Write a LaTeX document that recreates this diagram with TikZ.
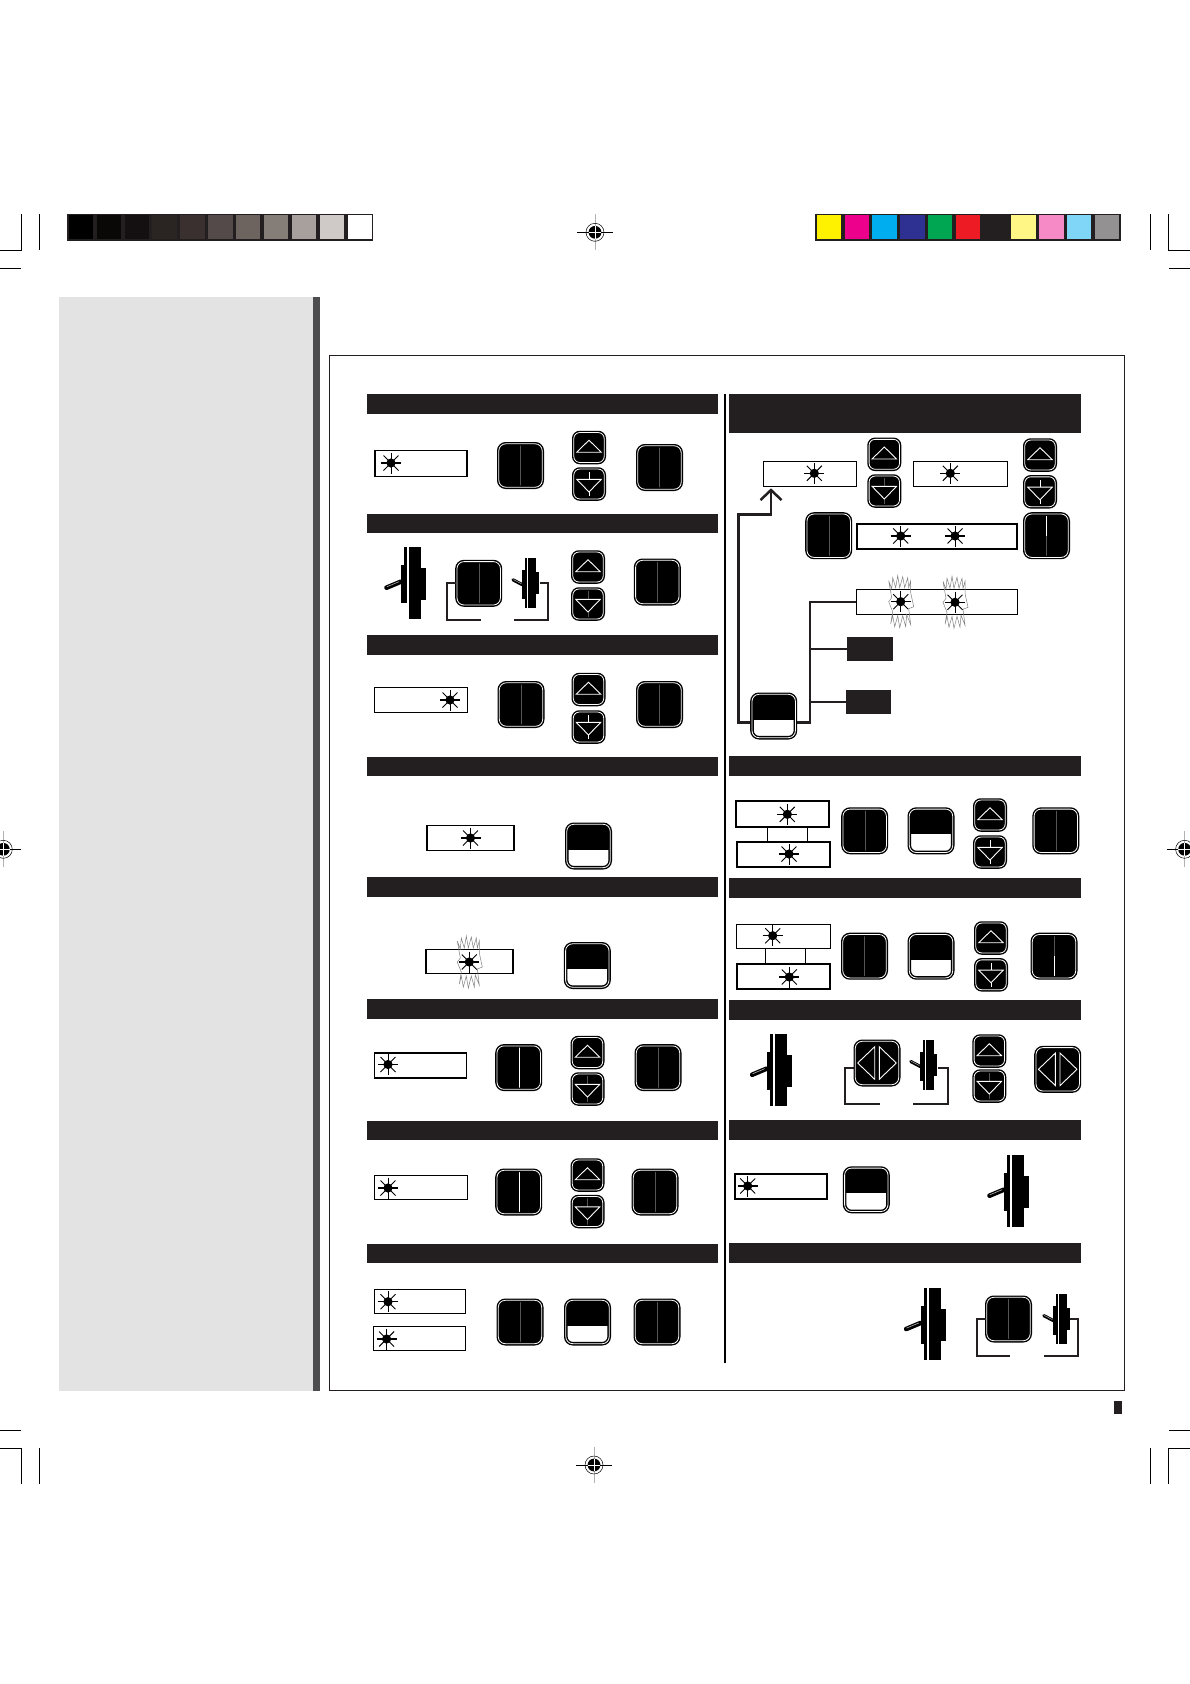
\documentclass[tikz,border=0pt]{standalone}
\usepackage{tikz}
\usetikzlibrary{arrows.meta}
\definecolor{inkdark}{HTML}{231F20}
\definecolor{panelgray}{HTML}{E3E3E3}
\definecolor{panelstrip}{HTML}{4D4D4F}
\definecolor{hairdim}{HTML}{555555}
\definecolor{cyel}{HTML}{FFF200}
\definecolor{cmag}{HTML}{EC008C}
\definecolor{ccya}{HTML}{00AEEF}
\definecolor{cblu}{HTML}{2E3192}
\definecolor{cgrn}{HTML}{00A651}
\definecolor{cred}{HTML}{ED1C24}
\definecolor{cblk}{HTML}{231F20}
\definecolor{cyel2}{HTML}{FFF685}
\definecolor{cmag2}{HTML}{F58AC6}
\definecolor{ccya2}{HTML}{7FD6F7}
\definecolor{cgry2}{HTML}{939191}
\definecolor{gs1}{HTML}{0A0807}
\definecolor{gs2}{HTML}{141011}
\definecolor{gs3}{HTML}{2A2523}
\definecolor{gs4}{HTML}{3A3030}
\definecolor{gs5}{HTML}{534A49}
\definecolor{gs6}{HTML}{6D645F}
\definecolor{gs7}{HTML}{857D78}
\definecolor{gs8}{HTML}{A8A09C}
\definecolor{gs9}{HTML}{CFC9C8}
\tikzset{
  btnbase/.style={draw=black, fill=black, double=white, double distance=.8pt, line width=1.4pt, inner sep=0pt},
  hair/.style 2 args={path picture={
    \draw[#1,line width=.35pt,sharp corners] (path picture bounding box.north) -- (path picture bounding box.center);
    \draw[#2,line width=.35pt,sharp corners] (path picture bounding box.center) -- (path picture bounding box.south);}},
  bigbase/.style={btnbase, minimum width=43.4pt, minimum height=43.4pt, rounded corners=7pt},
  bigbtn/.style={bigbase, hair={hairdim}{hairdim}},
  smallbase/.style={btnbase, minimum width=30.4pt, minimum height=29.9pt, rounded corners=6pt},
  upbtn/.style={smallbase, path picture={
    \draw[white,line width=.9pt,fill=black,sharp corners] ([shift={(-12.3,4.7)}]path picture bounding box.center) -- ([shift={(12.3,4.7)}]path picture bounding box.center) -- ([shift={(0,-7.3)}]path picture bounding box.center) -- cycle;}},
  downbtn/.style={smallbase, path picture={
    \draw[hairdim,line width=.3pt,sharp corners] (path picture bounding box.north) -- (path picture bounding box.south);
    \draw[white,line width=.9pt,fill=black,sharp corners] ([shift={(-12.3,-4.7)}]path picture bounding box.center) -- ([shift={(12.3,-4.7)}]path picture bounding box.center) -- ([shift={(0,8)}]path picture bounding box.center) -- cycle;}},
  downcross/.style={smallbase, path picture={
    \draw[white,line width=.9pt,fill=black,sharp corners] ([shift={(-12.3,-4.7)}]path picture bounding box.center) -- ([shift={(12.3,-4.7)}]path picture bounding box.center) -- ([shift={(0,8)}]path picture bounding box.center) -- cycle;
    \draw[white,line width=.8pt,sharp corners] ([shift={(0,-12)}]path picture bounding box.center) -- ([shift={(0,-4.7)}]path picture bounding box.center);
    \draw[white,line width=.8pt,sharp corners] ([shift={(0,8)}]path picture bounding box.center) -- ([shift={(0,12)}]path picture bounding box.center);}},
  halfbtn/.style={bigbase, fill=white, path picture={
    \fill[black,sharp corners] (path picture bounding box.north west) rectangle ([shift={(0,3.5)}]path picture bounding box.east);}},
  lrbtn/.style={bigbase, path picture={
    \draw[white,line width=.9pt,sharp corners] ([shift={(-19.3,0)}]path picture bounding box.center) -- ([shift={(-2.3,-16.3)}]path picture bounding box.center) -- ([shift={(-2.3,16.3)}]path picture bounding box.center) -- cycle;
    \draw[white,line width=.9pt,sharp corners] ([shift={(19.3,0)}]path picture bounding box.center) -- ([shift={(2.3,-16.3)}]path picture bounding box.center) -- ([shift={(2.3,16.3)}]path picture bounding box.center) -- cycle;}},
  dispbox/.style 2 args={draw=black, fill=white, line width=1.1pt, inner sep=0pt, minimum width=#1pt, minimum height=#2pt},
  heavy/.style={line width=1.7pt},
  hbar/.style 2 args={fill=inkdark, inner sep=0pt, minimum width=#1pt, minimum height=#2pt},
  wire/.style={draw=inkdark, line width=2.5pt},
  bracket/.style={draw=inkdark, line width=1.7pt},
  swatch/.style={inner sep=0pt, minimum width=24.4pt, minimum height=24pt},
  cropline/.style={draw=black, line width=.8pt},
  pics/lamp/.style={code={
    \fill[black] (0,0) circle (4.6);
    \draw[black,line width=1.2pt] (-10,0) -- (10,0);
    \draw[black,line width=.8pt] (0,-10.5) -- (0,10.5);
    \draw[black,line width=.9pt] (-7.5,-7.5) -- (7.5,7.5);
    \draw[black,line width=.9pt] (-7.5,7.5) -- (7.5,-7.5);}},
  pics/flash/.style={code={
    \draw[gray,line width=.5pt] (-12,-21) -- (-9,-13) -- (-8,-24) -- (-5,-14) -- (-3,-26) -- (-1,-14) -- (2,-25) -- (4,-14) -- (7,-24) -- (8,-14) -- (10,-21) -- (10,-9) -- (13,5) -- (8,7) -- (10,23) -- (6,13) -- (5,25) -- (2,14) -- (-1,26) -- (-3,14) -- (-6,25) -- (-8,14) -- (-10,22) -- (-8,10) -- (-12,0) -- (-9,-4) -- cycle;}},
  pics/bigswitch/.style={code={
    \fill[black] (-4,-36) rectangle (-0.8,#1);
    \fill[black] (-7.2,-18) rectangle (-0.8,20);
    \fill[black] (0.8,-36) rectangle (12.8,36);
    \fill[black] (12.8,-15) rectangle (17.8,17);
    \draw[black,line width=4.6pt,line cap=round] (-7.2,-1.3) -- (-21.5,4.7);
    \draw[gray!60,line width=.6pt,line cap=round] (-9,-1.3) -- (-21,3.7);}},
  pics/smallswitch/.style={code={
    \fill[black] (-2.3,-25) rectangle (-0.7,25);
    \fill[black] (-5.3,-13) rectangle (-0.7,16);
    \fill[black] (0.7,-25) rectangle (8.7,25);
    \fill[black] (8.7,-11) rectangle (11.7,11);
    \draw[black,line width=3.2pt,line cap=round] (-5,1.8) -- (-14.5,-3.2);
    \draw[gray!60,line width=.5pt,line cap=round] (-6,0.8) -- (-14,-3.4);}},
  pics/regmark/.style={code={
    \draw[gray!60,line width=.6pt] (0,-18) -- (0,18);
    \draw[black,line width=.5pt] (-18,0) -- (18,0);
    \draw[black,line width=.5pt] (0,0) circle (9);
    \fill[black] (0,0) circle (6.4);
    \draw[white,line width=.6pt] (-6.4,0) -- (6.4,0);
    \draw[white,line width=.6pt] (0,-6.4) -- (0,6.4);}},
}

\begin{document}
\begin{tikzpicture}[x=1pt,y=-1pt]
\useasboundingbox (0,0) rectangle (1190,1684);

\fill[panelgray] (59,297) rectangle (313,1391);
\fill[panelstrip] (313,297) rectangle (320,1391);
\draw[inkdark,line width=.9pt] (329,355) rectangle (1124,1390.3);
\draw[black,line width=1.6pt] (725,394) -- (725,1363);
\fill[inkdark] (1114,1401) rectangle (1122,1414);

\fill[inkdark] (66.8,214) rectangle (372.7,240.7);
\foreach \shade [count=\i from 0] in {black,gs1,gs2,gs3,gs4,gs5,gs6,gs7,gs8,gs9,white}
  \node[swatch,fill=\shade] (gs\i) at ({81+27.87*\i},227.3) {};
\fill[inkdark] (815,214) rectangle (1120.7,240.7);
\foreach \shade [count=\i from 0] in {cyel,cmag,ccya,cblu,cgrn,cred,cblk,cyel2,cmag2,ccya2,cgry2}
  \node[swatch,fill=\shade] (cs\i) at ({829+27.8*\i},227.3) {};

\draw[cropline] (0,250.3) -- (21.3,250.3) -- (21.3,214);
\draw[cropline] (0,268.3) -- (21,268.3);
\draw[cropline] (39.5,214) -- (39.5,250);
\draw[cropline] (1190,250.3) -- (1168.7,250.3) -- (1168.7,214);
\draw[cropline] (1190,268.3) -- (1169,268.3);
\draw[cropline] (1150.3,214) -- (1150.3,250);
\draw[cropline] (0,1430.7) -- (21,1430.7);
\draw[cropline] (0,1448.3) -- (21.7,1448.3) -- (21.7,1483.7);
\draw[cropline] (39.3,1448) -- (39.3,1483.7);
\draw[cropline] (1190,1430.7) -- (1169,1430.7);
\draw[cropline] (1190,1448.3) -- (1168.3,1448.3) -- (1168.3,1483.7);
\draw[cropline] (1150.7,1448) -- (1150.7,1483.7);
\pic at (595,232.3) {regmark};
\pic at (594,1465) {regmark};
\pic at (3.3,849.3) {regmark};
\pic at (1184.6,849.3) {regmark};

\foreach \y/\h [count=\i] in {404/20,523.5/19,645/20,766.7/19.5,887.2/19.5,1008.8/19.7,1130.7/19.5,1253.5/19}
  \node[hbar={351}{\h}] (lbar\i) at (542.5,\y) {};
\foreach \y/\h [count=\i] in {413.5/39,765.8/19.5,887.8/19.7,1010/20,1130/20,1253/20}
  \node[hbar={352}{\h}] (rbar\i) at (905,\y) {};

\node[dispbox={92}{26},heavy] (l1box) at (420.7,463.5) {};
\pic at (391,463) {lamp};
\node[bigbtn] (l1a) at (520.5,465.5) {};
\node[upbtn] (l1up) at (589,447.5) {};
\node[downcross] (l1dn) at (589,484) {};
\node[bigbtn] (l1b) at (659.5,467.5) {};

\pic at (408,583) {bigswitch=20};
\pic at (527.5,583) {smallswitch};
\coordinate (l2ol) at (480.7,619.7);
\coordinate (l2sw) at (540,582.7);
\coordinate (l2or) at (514.3,619.7);
\node[bigbtn] (l2a) at (478.7,583.3) {};
\draw[bracket] (l2a.west) -- ++(-9,0) |- (l2ol);
\draw[bracket] (l2sw) -- ++(8,0) |- (l2or);
\node[upbtn] (l2up) at (588,567) {};
\node[downbtn] (l2dn) at (588,604) {};
\node[bigbtn] (l2b) at (657.3,582) {};

\node[dispbox={93}{25},heavy] (l3box) at (421,700) {};
\pic at (450,700) {lamp};
\node[bigbtn] (l3a) at (521,704.5) {};
\node[upbtn] (l3up) at (588.5,689.5) {};
\node[downcross] (l3dn) at (588.5,727) {};
\node[bigbtn] (l3b) at (659.5,704.5) {};

\node[dispbox={87}{25}] (l4box) at (470.5,838) {};
\pic at (470.5,838) {lamp};
\node[halfbtn] (l4a) at (588.5,846) {};

\node[dispbox={87}{24}] (l5box) at (469.5,961.8) {};
\pic at (469.3,962) {flash};
\pic at (469.3,962) {lamp};
\node[halfbtn] (l5a) at (587.3,965.5) {};

\node[dispbox={92}{25},heavy] (l6box) at (420.5,1065.2) {};
\pic at (388,1064.5) {lamp};
\node[bigbtn,hair={white}{white}] (l6a) at (518.7,1067.6) {};
\node[upbtn] (l6up) at (587.5,1052.5) {};
\node[downbtn] (l6dn) at (587.5,1089) {};
\node[bigbtn] (l6b) at (658,1067.6) {};

\node[dispbox={93}{24},heavy] (l7box) at (421,1187.5) {};
\pic at (388,1188) {lamp};
\node[bigbtn,hair={white}{white}] (l7a) at (518.7,1192) {};
\node[upbtn] (l7up) at (587.5,1175) {};
\node[downbtn] (l7dn) at (587.5,1211.5) {};
\node[bigbtn] (l7b) at (655,1192) {};

\node[dispbox={91}{24}] (l8boxa) at (420,1301.2) {};
\pic at (388,1301.7) {lamp};
\node[dispbox={92}{24},heavy] (l8boxb) at (419.5,1338.5) {};
\pic at (386.6,1339) {lamp};
\node[bigbtn] (l8a) at (520,1322) {};
\node[halfbtn] (l8b) at (587.5,1322) {};
\node[bigbtn] (l8c) at (657,1322) {};

\node[dispbox={93}{24.5}] (r1boxa) at (810.3,474) {};
\pic at (814.3,473.3) {lamp};
\node[upbtn] (r1upa) at (884.3,454.3) {};
\node[downbtn] (r1dna) at (884.3,491) {};
\node[dispbox={93.4}{24.5}] (r1boxb) at (960.5,474) {};
\pic at (950.3,473.3) {lamp};
\node[upbtn] (r1upb) at (1040,455) {};
\node[downcross] (r1dnb) at (1040,491.8) {};
\node[bigbtn] (r1a) at (828.7,535.7) {};
\node[dispbox={160}{25},heavy] (r1boxc) at (937,536.3) {};
\pic at (900.7,536) {lamp};
\pic at (955,536) {lamp};
\node[bigbtn,hair={white}{hairdim}] (r1b) at (1046.5,535.7) {};
\node[dispbox={160.4}{24.5}] (r1boxd) at (937,602) {};
\pic at (900.7,601.7) {flash};
\pic at (900.7,601.7) {lamp};
\pic at (955,602.3) {flash};
\pic at (955,602.3) {lamp};
\node[hbar={45.7}{23.7}] (r1modea) at (869.8,648.8) {};
\node[hbar={45}{23.7}] (r1modeb) at (868.5,701.8) {};
\coordinate (r1hl) at (752,722.7);
\coordinate (r1back) at (738.3,514.3);
\coordinate (r1tip) at (771,488.3);
\coordinate (r1hr) at (796,722.7);
\coordinate (r1join) at (810,602);
\draw[wire,-{Straight Barb[length=10pt,width=21pt]}] (r1hl) -| (r1back) -| (r1tip);
\draw[wire] (r1hr) -| (r1join) -- (r1boxd.west);
\draw[wire] (r1modea.west) -- (r1modea.west -| r1join);
\draw[wire] (r1modeb.west) -- (r1modeb.west -| r1join);
\node[halfbtn] (r1c) at (773.7,716) {};

\node[dispbox={93}{25.6},heavy] (r2boxa) at (782.7,814) {};
\pic at (787.3,814.3) {lamp};
\node[dispbox={93}{25},heavy] (r2boxb) at (783.7,854.3) {};
\pic at (789,854) {lamp};
\draw[black,line width=.8pt] ([xshift=-15pt]r2boxa.south) -- ([xshift=-16pt]r2boxb.north);
\draw[black,line width=.8pt] ([xshift=24.6pt]r2boxa.south) -- ([xshift=23.6pt]r2boxb.north);
\node[bigbtn] (r2a) at (864.7,830.8) {};
\node[halfbtn] (r2b) at (931,830.8) {};
\node[upbtn] (r2up) at (990,815) {};
\node[downcross] (r2dn) at (990,852) {};
\node[bigbtn] (r2c) at (1055.8,830.8) {};

\node[dispbox={93.4}{24}] (r3boxa) at (783.5,936.2) {};
\pic at (772.7,935.7) {lamp};
\node[dispbox={93.4}{25},heavy] (r3boxb) at (783.5,976.3) {};
\pic at (789.3,977) {lamp};
\draw[black,line width=.8pt] ([xshift=-18.2pt]r3boxa.south) -- ([xshift=-18.2pt]r3boxb.north);
\draw[black,line width=.8pt] ([xshift=21.8pt]r3boxa.south) -- ([xshift=21.8pt]r3boxb.north);
\node[bigbtn] (r3a) at (864.5,956.2) {};
\node[halfbtn] (r3b) at (931,956.2) {};
\node[upbtn] (r3up) at (991,938) {};
\node[downcross] (r3dn) at (991,974.8) {};
\node[bigbtn,hair={hairdim}{white}] (r3c) at (1054,956.2) {};

\pic at (773.7,1070) {bigswitch=36};
\pic at (925.3,1064.7) {smallswitch};
\coordinate (r4il) at (854,1067.7);
\coordinate (r4ol) at (880,1104);
\coordinate (r4ir) at (938.3,1067.7);
\coordinate (r4or) at (913.3,1104);
\draw[bracket] (r4il) -- ++(-9.3,0) |- (r4ol);
\draw[bracket] (r4ir) -- ++(10,0) |- (r4or);
\node[lrbtn] (r4a) at (877,1063) {};
\node[upbtn] (r4up) at (989.3,1051) {};
\node[downbtn] (r4dn) at (989.3,1086) {};
\node[lrbtn] (r4b) at (1057.7,1069.3) {};

\node[dispbox={92}{25},heavy] (r5box) at (781,1186.3) {};
\pic at (747.7,1186) {lamp};
\node[halfbtn] (r5a) at (866.3,1189.8) {};
\pic at (1011,1191) {bigswitch=36};

\pic at (927.7,1324.3) {bigswitch=36};
\pic at (1058.3,1318.8) {smallswitch};
\coordinate (r6ol) at (1010,1356);
\coordinate (r6ir) at (1070,1318.7);
\coordinate (r6or) at (1044.3,1356);
\node[bigbtn] (r6a) at (1008.5,1319) {};
\draw[bracket] (r6a.west) -- ++(-9.3,0) |- (r6ol);
\draw[bracket] (r6ir) -- ++(8.3,0) |- (r6or);

\end{tikzpicture}
\end{document}
